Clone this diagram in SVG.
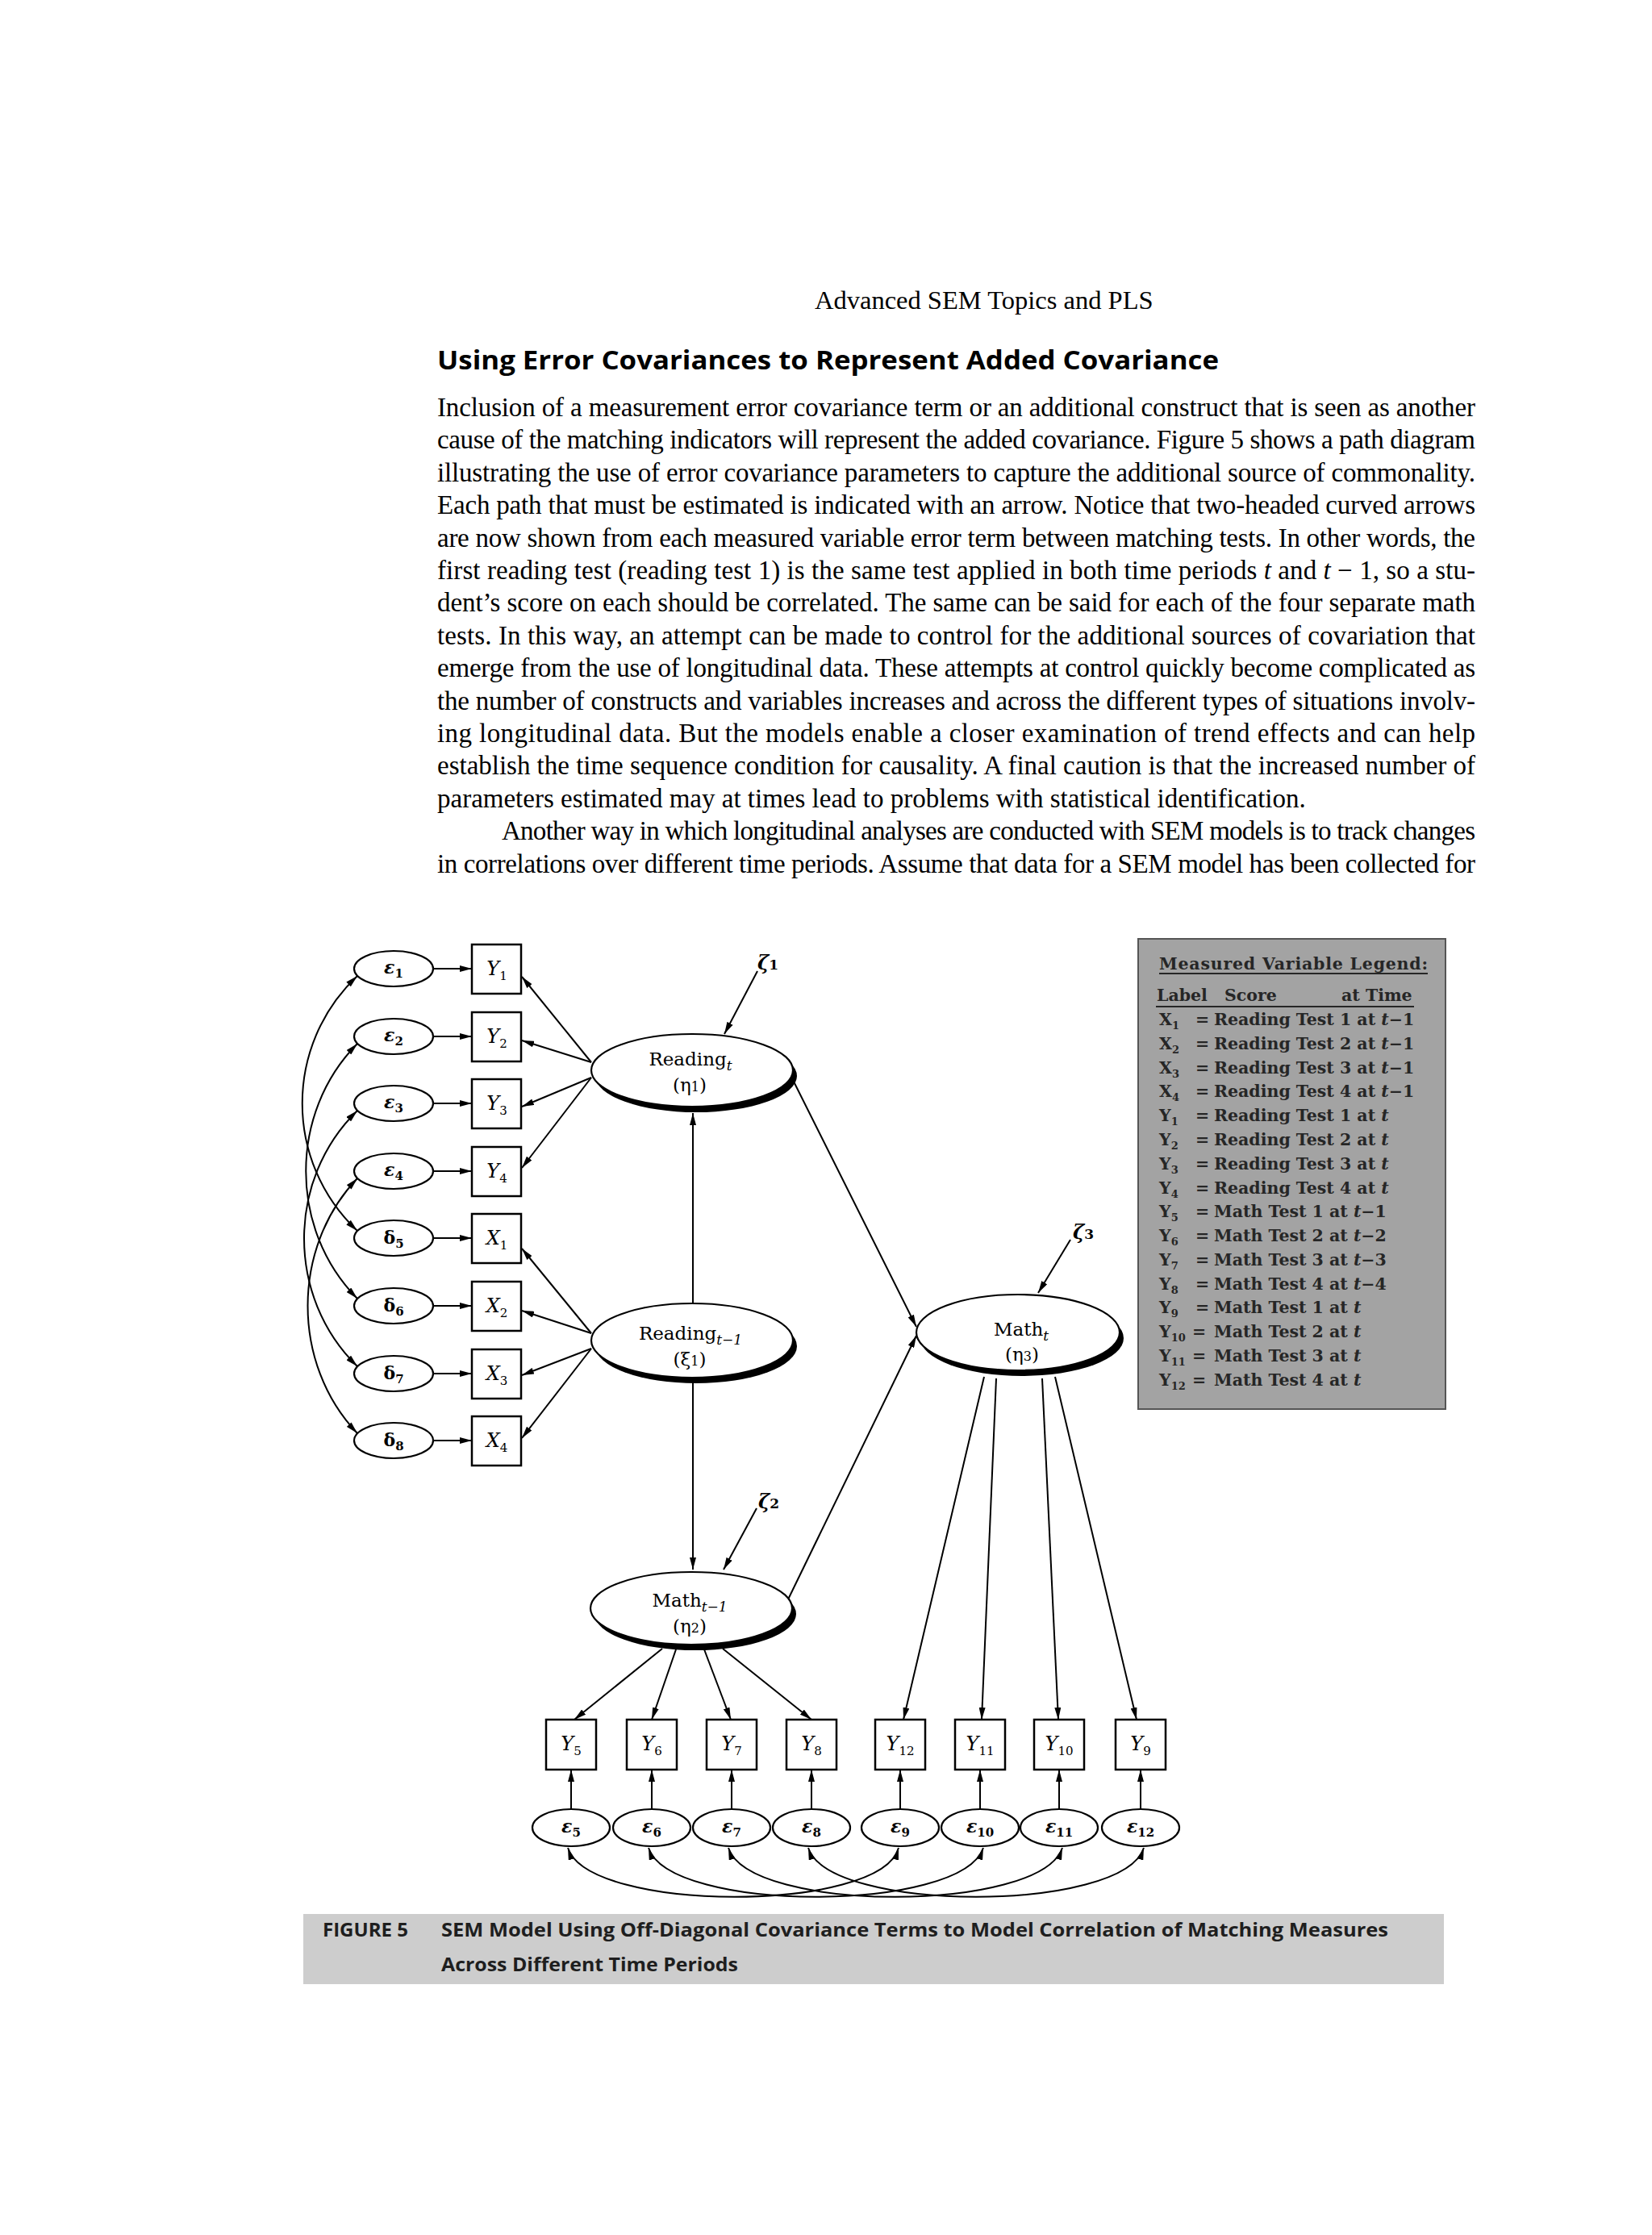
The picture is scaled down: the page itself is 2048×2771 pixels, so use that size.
<svg xmlns="http://www.w3.org/2000/svg" width="2048" height="2771" viewBox="0 0 2048 2771">
<style>
.body{font-family:"Liberation Serif","Times New Roman",serif;font-size:33px;fill:#000}
.head{font-family:"Liberation Serif","Times New Roman",serif;font-size:32.5px;fill:#000}
.title{font-family:"Open Sans","Liberation Sans",sans-serif;font-weight:700;font-size:32px;fill:#000}
.lab{font-family:"DejaVu Serif",serif;font-size:23px;text-anchor:middle;fill:#000}
.var{font-family:"DejaVu Serif",serif;font-style:italic;font-size:24px;text-anchor:middle;fill:#000}
.err{font-family:"DejaVu Serif",serif;font-weight:bold;font-size:22px;text-anchor:middle;fill:#000}
.zeta{font-family:"DejaVu Serif",serif;font-style:italic;font-weight:bold;font-size:24px;text-anchor:middle;fill:#000}
.sub{font-size:15px;font-style:normal}
.isub{font-size:17px;font-style:italic}
.box{fill:#fff;stroke:#000;stroke-width:2.5}
.ell{fill:#fff;stroke:#000;stroke-width:2.2}
.shadow{fill:#000}
.conn line,.conn path{stroke:#000;stroke-width:2;fill:none}
.arr{marker-end:url(#ah)}
.dbl{marker-start:url(#ah);marker-end:url(#ah)}
.leg{font-family:"DejaVu Serif",serif;font-weight:bold;font-size:20.5px;fill:#262626}
.lsub{font-size:13px}
.cap{font-family:"Open Sans","Liberation Sans",sans-serif;font-weight:700;font-size:24px;fill:#1e1e1e}
</style>
<defs>
<marker id="ah" viewBox="0 0 15 8" refX="15" refY="4" markerWidth="15" markerHeight="8" markerUnits="userSpaceOnUse" orient="auto-start-reverse"><path d="M0,0L15,4L0,8z" fill="#000"/></marker>
</defs>
<rect width="2048" height="2771" fill="#fff"/>

<g id="page-text">
<text class="head" x="1010" y="383">Advanced SEM Topics and PLS</text>
<text class="title" x="542" y="458" textLength="969" lengthAdjust="spacingAndGlyphs">Using Error Covariances to Represent Added Covariance</text>
<text class="body" x="542" y="516" textLength="1287">Inclusion of a measurement error covariance term or an additional construct that is seen as another</text>
<text class="body" x="542" y="556" textLength="1287">cause of the matching indicators will represent the added covariance. Figure 5 shows a path diagram</text>
<text class="body" x="542" y="597" textLength="1287">illustrating the use of error covariance parameters to capture the additional source of commonality.</text>
<text class="body" x="542" y="637" textLength="1287">Each path that must be estimated is indicated with an arrow. Notice that two-headed curved arrows</text>
<text class="body" x="542" y="678" textLength="1287">are now shown from each measured variable error term between matching tests. In other words, the</text>
<text class="body" x="542" y="718" textLength="1287">first reading test (reading test 1) is the same test applied in both time periods <tspan font-style="italic">t</tspan> and <tspan font-style="italic">t</tspan> − 1, so a stu-</text>
<text class="body" x="542" y="758" textLength="1287">dent’s score on each should be correlated. The same can be said for each of the four separate math</text>
<text class="body" x="542" y="799" textLength="1287">tests. In this way, an attempt can be made to control for the additional sources of covariation that</text>
<text class="body" x="542" y="839" textLength="1287">emerge from the use of longitudinal data. These attempts at control quickly become complicated as</text>
<text class="body" x="542" y="880" textLength="1287">the number of constructs and variables increases and across the different types of situations involv-</text>
<text class="body" x="542" y="920" textLength="1287">ing longitudinal data. But the models enable a closer examination of trend effects and can help</text>
<text class="body" x="542" y="960" textLength="1287">establish the time sequence condition for causality. A final caution is that the increased number of</text>
<text class="body" x="542" y="1001">parameters estimated may at times lead to problems with statistical identification.</text>
<text class="body" x="622" y="1041" textLength="1207">Another way in which longitudinal analyses are conducted with SEM models is to track changes</text>
<text class="body" x="542" y="1082" textLength="1287">in correlations over different time periods. Assume that data for a SEM model has been collected for</text>
</g>

<g id="connectors" class="conn">
<line class="arr" x1="537" y1="1201" x2="585" y2="1201"/>
<line class="arr" x1="537" y1="1285" x2="585" y2="1285"/>
<line class="arr" x1="537" y1="1368" x2="585" y2="1368"/>
<line class="arr" x1="537" y1="1452" x2="585" y2="1452"/>
<line class="arr" x1="537" y1="1535" x2="585" y2="1535"/>
<line class="arr" x1="537" y1="1619" x2="585" y2="1619"/>
<line class="arr" x1="537" y1="1703" x2="585" y2="1703"/>
<line class="arr" x1="537" y1="1786" x2="585" y2="1786"/>
<path class="dbl" d="M443,1210 C352,1296 352,1440 443,1526"/>
<path class="dbl" d="M443,1294 C358,1380 358,1524 443,1610"/>
<path class="dbl" d="M443,1377 C355,1463 355,1608 443,1694"/>
<path class="dbl" d="M443,1461 C361,1547 361,1691 443,1777"/>
<line class="arr" x1="733" y1="1317" x2="647" y2="1211"/>
<line class="arr" x1="733" y1="1317" x2="647" y2="1290"/>
<line class="arr" x1="733" y1="1336" x2="647" y2="1372"/>
<line class="arr" x1="733" y1="1336" x2="647" y2="1448"/>
<line class="arr" x1="733" y1="1653" x2="647" y2="1548"/>
<line class="arr" x1="733" y1="1653" x2="647" y2="1625"/>
<line class="arr" x1="733" y1="1672" x2="647" y2="1705"/>
<line class="arr" x1="733" y1="1672" x2="647" y2="1783"/>
<line class="arr" x1="859" y1="1616" x2="859" y2="1380"/>
<line class="arr" x1="859" y1="1710" x2="859" y2="1946"/>
<line class="arr" x1="984" y1="1341" x2="1136" y2="1645"/>
<line class="arr" x1="976" y1="1985" x2="1136" y2="1656"/>
<line class="arr" x1="939" y1="1204" x2="898" y2="1282"/>
<line class="arr" x1="938" y1="1870" x2="897" y2="1946"/>
<line class="arr" x1="1327" y1="1537" x2="1287" y2="1603"/>
<line class="arr" x1="821" y1="2044" x2="712" y2="2132"/>
<line class="arr" x1="838" y1="2045" x2="808" y2="2132"/>
<line class="arr" x1="873" y1="2045" x2="906" y2="2132"/>
<line class="arr" x1="896" y1="2044" x2="1006" y2="2132"/>
<line class="arr" x1="1220" y1="1707" x2="1120" y2="2132"/>
<line class="arr" x1="1235" y1="1709" x2="1217" y2="2132"/>
<line class="arr" x1="1292" y1="1709" x2="1312" y2="2132"/>
<line class="arr" x1="1308" y1="1707" x2="1409" y2="2132"/>
<line class="arr" x1="708" y1="2243" x2="708" y2="2194"/>
<line class="arr" x1="808" y1="2243" x2="808" y2="2194"/>
<line class="arr" x1="907" y1="2243" x2="907" y2="2194"/>
<line class="arr" x1="1006" y1="2243" x2="1006" y2="2194"/>
<line class="arr" x1="1116" y1="2243" x2="1116" y2="2194"/>
<line class="arr" x1="1215" y1="2243" x2="1215" y2="2194"/>
<line class="arr" x1="1313" y1="2243" x2="1313" y2="2194"/>
<line class="arr" x1="1414" y1="2243" x2="1414" y2="2194"/>
<path class="dbl" d="M704,2291 C730,2372 1092,2372 1114,2291"/>
<path class="dbl" d="M804,2291 C830,2372 1192,2372 1219,2291"/>
<path class="dbl" d="M903,2291 C929,2372 1290,2372 1317,2291"/>
<path class="dbl" d="M1002,2291 C1028,2372 1392,2372 1418,2291"/>
</g>

<g id="e1"><ellipse class="ell" cx="488" cy="1201" rx="49" ry="22"/><text class="err" x="488" y="1207"><tspan font-style="italic">ε</tspan><tspan class="sub" dy="5">1</tspan></text></g>
<g id="e2"><ellipse class="ell" cx="488" cy="1285" rx="49" ry="22"/><text class="err" x="488" y="1291"><tspan font-style="italic">ε</tspan><tspan class="sub" dy="5">2</tspan></text></g>
<g id="e3"><ellipse class="ell" cx="488" cy="1368" rx="49" ry="22"/><text class="err" x="488" y="1374"><tspan font-style="italic">ε</tspan><tspan class="sub" dy="5">3</tspan></text></g>
<g id="e4"><ellipse class="ell" cx="488" cy="1452" rx="49" ry="22"/><text class="err" x="488" y="1458"><tspan font-style="italic">ε</tspan><tspan class="sub" dy="5">4</tspan></text></g>
<g id="d5"><ellipse class="ell" cx="488" cy="1535" rx="49" ry="22"/><text class="err" x="488" y="1542">δ<tspan class="sub" dy="5">5</tspan></text></g>
<g id="d6"><ellipse class="ell" cx="488" cy="1619" rx="49" ry="22"/><text class="err" x="488" y="1626">δ<tspan class="sub" dy="5">6</tspan></text></g>
<g id="d7"><ellipse class="ell" cx="488" cy="1703" rx="49" ry="22"/><text class="err" x="488" y="1710">δ<tspan class="sub" dy="5">7</tspan></text></g>
<g id="d8"><ellipse class="ell" cx="488" cy="1786" rx="49" ry="22"/><text class="err" x="488" y="1793">δ<tspan class="sub" dy="5">8</tspan></text></g>

<g id="Y1"><rect class="box" x="585" y="1171" width="61" height="61"/><text class="var" x="616" y="1209">Y<tspan class="sub" dy="6">1</tspan></text></g>
<g id="Y2"><rect class="box" x="585" y="1255" width="61" height="61"/><text class="var" x="616" y="1293">Y<tspan class="sub" dy="6">2</tspan></text></g>
<g id="Y3"><rect class="box" x="585" y="1338" width="61" height="61"/><text class="var" x="616" y="1376">Y<tspan class="sub" dy="6">3</tspan></text></g>
<g id="Y4"><rect class="box" x="585" y="1422" width="61" height="61"/><text class="var" x="616" y="1460">Y<tspan class="sub" dy="6">4</tspan></text></g>
<g id="X1"><rect class="box" x="585" y="1505" width="61" height="61"/><text class="var" x="616" y="1543">X<tspan class="sub" dy="6">1</tspan></text></g>
<g id="X2"><rect class="box" x="585" y="1589" width="61" height="61"/><text class="var" x="616" y="1627">X<tspan class="sub" dy="6">2</tspan></text></g>
<g id="X3"><rect class="box" x="585" y="1673" width="61" height="61"/><text class="var" x="616" y="1711">X<tspan class="sub" dy="6">3</tspan></text></g>
<g id="X4"><rect class="box" x="585" y="1756" width="61" height="61"/><text class="var" x="616" y="1794">X<tspan class="sub" dy="6">4</tspan></text></g>

<g id="reading-t">
<ellipse class="shadow" cx="863" cy="1334" rx="125" ry="45"/>
<ellipse class="ell" cx="858" cy="1327" rx="125" ry="45"/>
<text class="lab" x="856" y="1321">Reading<tspan class="isub" dy="6">t</tspan></text>
<text class="lab" x="855" y="1353">(η<tspan font-size="16px">1</tspan>)</text>
</g>
<g id="reading-t-1">
<ellipse class="shadow" cx="863" cy="1669" rx="125" ry="46"/>
<ellipse class="ell" cx="858" cy="1662" rx="125" ry="46"/>
<text class="lab" x="856" y="1661">Reading<tspan class="isub" dy="6">t</tspan><tspan class="isub" font-style="normal">−1</tspan></text>
<text class="lab" x="855" y="1693">(ξ<tspan font-size="16px">1</tspan>)</text>
</g>
<g id="math-t">
<ellipse class="shadow" cx="1267" cy="1659" rx="126" ry="47"/>
<ellipse class="ell" cx="1262" cy="1652" rx="126" ry="47"/>
<text class="lab" x="1266" y="1656">Math<tspan class="isub" dy="6">t</tspan></text>
<text class="lab" x="1267" y="1687">(η<tspan font-size="16px">3</tspan>)</text>
</g>
<g id="math-t-1">
<ellipse class="shadow" cx="862" cy="2001" rx="125" ry="45"/>
<ellipse class="ell" cx="857" cy="1994" rx="125" ry="45"/>
<text class="lab" x="855" y="1992">Math<tspan class="isub" dy="6">t</tspan><tspan class="isub" font-style="normal">−1</tspan></text>
<text class="lab" x="855" y="2024">(η<tspan font-size="16px">2</tspan>)</text>
</g>

<g id="zeta1"><text class="zeta" x="952" y="1202">ζ<tspan font-size="17px" font-style="normal">1</tspan></text></g>
<g id="zeta2"><text class="zeta" x="953" y="1870">ζ<tspan font-size="17px" font-style="normal">2</tspan></text></g>
<g id="zeta3"><text class="zeta" x="1343" y="1536">ζ<tspan font-size="17px" font-style="normal">3</tspan></text></g>

<g id="Y5"><rect class="box" x="677" y="2132" width="62" height="62"/><text class="var" x="708" y="2170">Y<tspan class="sub" dy="6">5</tspan></text></g>
<g id="Y6"><rect class="box" x="777" y="2132" width="62" height="62"/><text class="var" x="808" y="2170">Y<tspan class="sub" dy="6">6</tspan></text></g>
<g id="Y7"><rect class="box" x="876" y="2132" width="62" height="62"/><text class="var" x="907" y="2170">Y<tspan class="sub" dy="6">7</tspan></text></g>
<g id="Y8"><rect class="box" x="975" y="2132" width="62" height="62"/><text class="var" x="1006" y="2170">Y<tspan class="sub" dy="6">8</tspan></text></g>
<g id="Y12"><rect class="box" x="1085" y="2132" width="62" height="62"/><text class="var" x="1116" y="2170">Y<tspan class="sub" dy="6">12</tspan></text></g>
<g id="Y11"><rect class="box" x="1184" y="2132" width="62" height="62"/><text class="var" x="1215" y="2170">Y<tspan class="sub" dy="6">11</tspan></text></g>
<g id="Y10"><rect class="box" x="1282" y="2132" width="62" height="62"/><text class="var" x="1313" y="2170">Y<tspan class="sub" dy="6">10</tspan></text></g>
<g id="Y9"><rect class="box" x="1383" y="2132" width="62" height="62"/><text class="var" x="1414" y="2170">Y<tspan class="sub" dy="6">9</tspan></text></g>

<g id="e5"><ellipse class="ell" cx="708" cy="2266" rx="48" ry="23"/><text class="err" x="708" y="2272"><tspan font-style="italic">ε</tspan><tspan class="sub" dy="5">5</tspan></text></g>
<g id="e6"><ellipse class="ell" cx="808" cy="2266" rx="48" ry="23"/><text class="err" x="808" y="2272"><tspan font-style="italic">ε</tspan><tspan class="sub" dy="5">6</tspan></text></g>
<g id="e7"><ellipse class="ell" cx="907" cy="2266" rx="48" ry="23"/><text class="err" x="907" y="2272"><tspan font-style="italic">ε</tspan><tspan class="sub" dy="5">7</tspan></text></g>
<g id="e8"><ellipse class="ell" cx="1006" cy="2266" rx="48" ry="23"/><text class="err" x="1006" y="2272"><tspan font-style="italic">ε</tspan><tspan class="sub" dy="5">8</tspan></text></g>
<g id="e9"><ellipse class="ell" cx="1116" cy="2266" rx="48" ry="23"/><text class="err" x="1116" y="2272"><tspan font-style="italic">ε</tspan><tspan class="sub" dy="5">9</tspan></text></g>
<g id="e10"><ellipse class="ell" cx="1215" cy="2266" rx="48" ry="23"/><text class="err" x="1215" y="2272"><tspan font-style="italic">ε</tspan><tspan class="sub" dy="5">10</tspan></text></g>
<g id="e11"><ellipse class="ell" cx="1313" cy="2266" rx="48" ry="23"/><text class="err" x="1313" y="2272"><tspan font-style="italic">ε</tspan><tspan class="sub" dy="5">11</tspan></text></g>
<g id="e12"><ellipse class="ell" cx="1414" cy="2266" rx="48" ry="23"/><text class="err" x="1414" y="2272"><tspan font-style="italic">ε</tspan><tspan class="sub" dy="5">12</tspan></text></g>

<g id="legend">
<rect x="1411" y="1164" width="381" height="583" fill="#a3a3a3" stroke="#555" stroke-width="2"/>
<text class="leg" x="1437" y="1202" textLength="333">Measured Variable Legend:</text>
<line x1="1437" y1="1207" x2="1770" y2="1207" stroke="#262626" stroke-width="2"/>
<text class="leg" x="1434" y="1241">Label</text>
<text class="leg" x="1518" y="1241">Score</text>
<text class="leg" x="1663" y="1241">at Time</text>
<line x1="1433" y1="1248" x2="1753" y2="1248" stroke="#262626" stroke-width="2"/>
<text class="leg" x="1437" y="1271">X<tspan class="lsub" dy="5">1</tspan></text><text class="leg" x="1482" y="1271">=</text><text class="leg" x="1505" y="1271">Reading Test 1 at <tspan font-style="italic">t</tspan>−1</text>
<text class="leg" x="1437" y="1301">X<tspan class="lsub" dy="5">2</tspan></text><text class="leg" x="1482" y="1301">=</text><text class="leg" x="1505" y="1301">Reading Test 2 at <tspan font-style="italic">t</tspan>−1</text>
<text class="leg" x="1437" y="1331">X<tspan class="lsub" dy="5">3</tspan></text><text class="leg" x="1482" y="1331">=</text><text class="leg" x="1505" y="1331">Reading Test 3 at <tspan font-style="italic">t</tspan>−1</text>
<text class="leg" x="1437" y="1360">X<tspan class="lsub" dy="5">4</tspan></text><text class="leg" x="1482" y="1360">=</text><text class="leg" x="1505" y="1360">Reading Test 4 at <tspan font-style="italic">t</tspan>−1</text>
<text class="leg" x="1437" y="1390">Y<tspan class="lsub" dy="5">1</tspan></text><text class="leg" x="1482" y="1390">=</text><text class="leg" x="1505" y="1390">Reading Test 1 at <tspan font-style="italic">t</tspan></text>
<text class="leg" x="1437" y="1420">Y<tspan class="lsub" dy="5">2</tspan></text><text class="leg" x="1482" y="1420">=</text><text class="leg" x="1505" y="1420">Reading Test 2 at <tspan font-style="italic">t</tspan></text>
<text class="leg" x="1437" y="1450">Y<tspan class="lsub" dy="5">3</tspan></text><text class="leg" x="1482" y="1450">=</text><text class="leg" x="1505" y="1450">Reading Test 3 at <tspan font-style="italic">t</tspan></text>
<text class="leg" x="1437" y="1480">Y<tspan class="lsub" dy="5">4</tspan></text><text class="leg" x="1482" y="1480">=</text><text class="leg" x="1505" y="1480">Reading Test 4 at <tspan font-style="italic">t</tspan></text>
<text class="leg" x="1437" y="1509">Y<tspan class="lsub" dy="5">5</tspan></text><text class="leg" x="1482" y="1509">=</text><text class="leg" x="1505" y="1509">Math Test 1 at <tspan font-style="italic">t</tspan>−1</text>
<text class="leg" x="1437" y="1539">Y<tspan class="lsub" dy="5">6</tspan></text><text class="leg" x="1482" y="1539">=</text><text class="leg" x="1505" y="1539">Math Test 2 at <tspan font-style="italic">t</tspan>−2</text>
<text class="leg" x="1437" y="1569">Y<tspan class="lsub" dy="5">7</tspan></text><text class="leg" x="1482" y="1569">=</text><text class="leg" x="1505" y="1569">Math Test 3 at <tspan font-style="italic">t</tspan>−3</text>
<text class="leg" x="1437" y="1599">Y<tspan class="lsub" dy="5">8</tspan></text><text class="leg" x="1482" y="1599">=</text><text class="leg" x="1505" y="1599">Math Test 4 at <tspan font-style="italic">t</tspan>−4</text>
<text class="leg" x="1437" y="1628">Y<tspan class="lsub" dy="5">9</tspan></text><text class="leg" x="1482" y="1628">=</text><text class="leg" x="1505" y="1628">Math Test 1 at <tspan font-style="italic">t</tspan></text>
<text class="leg" x="1437" y="1658">Y<tspan class="lsub" dy="5">10</tspan></text><text class="leg" x="1478" y="1658">=</text><text class="leg" x="1505" y="1658">Math Test 2 at <tspan font-style="italic">t</tspan></text>
<text class="leg" x="1437" y="1688">Y<tspan class="lsub" dy="5">11</tspan></text><text class="leg" x="1478" y="1688">=</text><text class="leg" x="1505" y="1688">Math Test 3 at <tspan font-style="italic">t</tspan></text>
<text class="leg" x="1437" y="1718">Y<tspan class="lsub" dy="5">12</tspan></text><text class="leg" x="1478" y="1718">=</text><text class="leg" x="1505" y="1718">Math Test 4 at <tspan font-style="italic">t</tspan></text>
</g>

<g id="caption">
<rect x="376" y="2373" width="1414" height="87" fill="#cdcdcd"/>
<text class="cap" x="400" y="2401">FIGURE 5</text>
<text class="cap" x="547" y="2401" textLength="1174" lengthAdjust="spacingAndGlyphs">SEM Model Using Off-Diagonal Covariance Terms to Model Correlation of Matching Measures</text>
<text class="cap" x="547" y="2444" textLength="368" lengthAdjust="spacingAndGlyphs">Across Different Time Periods</text>
</g>
</svg>
